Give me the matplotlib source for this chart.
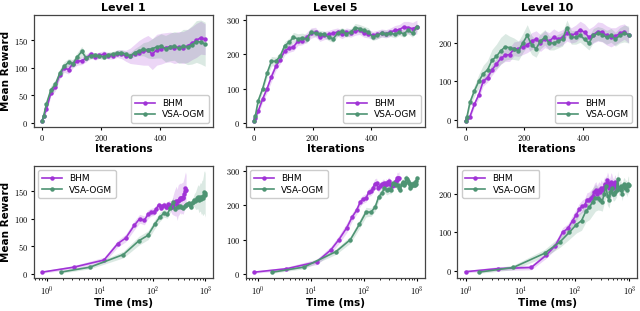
import numpy as np
import matplotlib
matplotlib.use("Agg")
import matplotlib.pyplot as plt
from matplotlib.ticker import FuncFormatter, MultipleLocator, LogLocator

plt.rcParams['mathtext.fontset'] = 'cm'
plt.rcParams['font.family'] = ['DejaVu Sans']

levels = ["Level 1", "Level 5", "Level 10"]
series_names = ["BHM", "VSA-OGM"]
colors = {"BHM": "#a033d6", "VSA-OGM": "#4e9473"}

iterations = [0, 5, 15, 30, 45, 60, 75, 90, 105, 120, 135, 150, 165, 180, 195, 210,
              225, 240, 255, 270, 285, 300, 315, 330, 345, 360, 375, 390, 405, 420,
              435, 450, 465, 480, 495, 510, 525, 540, 555]

# ---------- Level 1 ----------
l1_bhm_mean = [3, 12, 25, 55, 65, 88, 100, 97, 108, 112, 113, 118, 125, 120, 123, 125,
               122, 122, 126, 125, 122, 122, 125, 128, 130, 132, 125, 133, 135, 137,
               138, 136, 138, 137, 140, 145, 150, 155, 152]
l1_bhm_std = [2, 3, 5, 6, 7, 8, 8, 8, 8, 7, 7, 7, 6, 6, 6, 6, 6, 6, 7, 8, 10, 14, 18, 22,
              25, 27, 28, 28, 28, 27, 27, 28, 28, 29, 30, 30, 31, 30, 28]
l1_vsa_mean = [3, 12, 35, 60, 70, 90, 103, 110, 108, 120, 130, 118, 122, 123, 122, 120,
               124, 125, 127, 128, 125, 122, 128, 131, 134, 133, 135, 138, 140, 135,
               138, 140, 136, 140, 138, 142, 148, 147, 143]
l1_vsa_std = [2, 3, 6, 8, 8, 8, 8, 7, 7, 8, 9, 6, 6, 5, 5, 5, 5, 5, 5, 5, 5, 6, 7, 9,
              12, 15, 18, 20, 22, 24, 25, 26, 28, 30, 32, 35, 38, 40, 40]
l1_bhm_time = [0.8, 3.2, 12, 22, 31, 45, 57, 70, 82, 94, 106, 118, 130, 142, 154, 165,
               177, 189, 201, 212, 224, 236, 247, 259, 271, 282, 294, 306, 317, 329,
               341, 352, 364, 376, 387, 399, 411, 422, 434]
l1_vsa_time = [1.8, 6.5, 28, 55, 82, 110, 137, 164, 191, 218, 245, 272, 299, 326, 353,
               380, 407, 434, 461, 488, 515, 542, 569, 596, 623, 650, 677, 704, 731,
               758, 785, 812, 839, 866, 893, 920, 947, 974, 1000]

# ---------- Level 5 ----------
l5_bhm_mean = [5, 15, 35, 70, 100, 135, 165, 185, 210, 218, 222, 238, 240, 250, 262, 265,
               250, 255, 258, 262, 265, 258, 265, 262, 268, 270, 262, 260, 255, 258,
               262, 260, 265, 270, 272, 280, 278, 275, 280]
l5_bhm_std = [3, 5, 8, 10, 12, 14, 12, 12, 12, 12, 12, 12, 12, 14, 15, 14, 12, 12, 12, 12,
              12, 12, 12, 12, 12, 12, 12, 12, 12, 12, 12, 12, 12, 14, 15, 16, 18, 18, 20]
l5_vsa_mean = [5, 20, 65, 100, 145, 180, 180, 195, 225, 235, 250, 245, 248, 245, 265, 262,
               260, 258, 250, 245, 262, 268, 260, 265, 278, 275, 270, 265, 250, 255,
               262, 260, 262, 258, 265, 260, 270, 262, 280]
l5_vsa_std = [3, 5, 8, 10, 12, 14, 12, 12, 12, 12, 14, 15, 14, 12, 10, 10, 10, 10, 10, 10,
              10, 10, 10, 10, 12, 12, 12, 12, 10, 10, 10, 10, 10, 10, 10, 10, 10, 12, 12]
l5_bhm_time = [0.85, 3.5, 13, 24, 34, 48, 60, 73, 86, 98, 111, 124, 136, 149, 161, 174,
               186, 199, 211, 224, 236, 249, 261, 274, 286, 299, 311, 324, 336, 349,
               361, 374, 386, 399, 411, 424, 436, 449, 461]
l5_vsa_time = [1.9, 7.5, 30, 56, 83, 110, 137, 164, 191, 218, 245, 272, 299, 326, 353,
               380, 407, 434, 461, 488, 515, 542, 569, 596, 623, 650, 677, 704, 731,
               758, 785, 812, 839, 866, 893, 920, 947, 974, 1000]

# ---------- Level 10 ----------
l10_bhm_mean = [-3, 5, 8, 40, 65, 100, 110, 130, 145, 160, 168, 170, 185, 185, 190, 195,
                205, 210, 200, 210, 205, 215, 210, 215, 225, 220, 225, 235, 228, 215,
                222, 230, 228, 220, 215, 218, 225, 230, 220]
l10_bhm_std = [3, 5, 6, 8, 10, 12, 12, 14, 15, 15, 16, 18, 18, 20, 20, 20, 22, 22, 22, 22,
               22, 22, 20, 20, 20, 20, 22, 22, 22, 22, 22, 25, 25, 25, 25, 22, 22, 20, 20]
l10_vsa_mean = [-4, 8, 45, 75, 100, 120, 130, 155, 165, 180, 190, 188, 185, 180, 200, 220,
                195, 185, 205, 215, 200, 200, 205, 210, 240, 215, 215, 220, 210, 200,
                220, 225, 222, 215, 220, 210, 220, 225, 222]
l10_vsa_std = [3, 6, 10, 14, 18, 22, 25, 28, 32, 35, 35, 30, 28, 25, 25, 28, 25, 22, 20, 20,
               18, 18, 18, 18, 20, 18, 18, 18, 18, 18, 18, 18, 18, 18, 18, 18, 20, 22, 22]
l10_bhm_time = [1.0, 3.9, 16, 30, 44, 60, 75, 91, 106, 121, 137, 152, 167, 183, 198, 213,
                229, 244, 259, 275, 290, 305, 321, 336, 351, 367, 382, 397, 413, 428,
                443, 459, 474, 489, 505, 520, 535, 551, 566]
l10_vsa_time = [1.8, 7.5, 28, 54, 80, 107, 133, 160, 186, 213, 239, 266, 292, 319, 345,
                372, 398, 425, 451, 478, 504, 531, 557, 584, 610, 637, 663, 690, 716,
                743, 769, 796, 822, 849, 875, 902, 928, 955, 970]

data = [
    {"BHM": (l1_bhm_mean, l1_bhm_std, l1_bhm_time), "VSA-OGM": (l1_vsa_mean, l1_vsa_std, l1_vsa_time)},
    {"BHM": (l5_bhm_mean, l5_bhm_std, l5_bhm_time), "VSA-OGM": (l5_vsa_mean, l5_vsa_std, l5_vsa_time)},
    {"BHM": (l10_bhm_mean, l10_bhm_std, l10_bhm_time), "VSA-OGM": (l10_vsa_mean, l10_vsa_std, l10_vsa_time)},
]
ytick_step = [50, 100, 100]

fig, axes = plt.subplots(2, 3, figsize=(6.4, 3.11), dpi=100)
fig.subplots_adjust(left=0.053, right=0.995, top=0.952, bottom=0.105, wspace=0.18, hspace=0.34)

lin_fmt = FuncFormatter(lambda v, p: f'${int(round(v))}$')
log_fmt = FuncFormatter(lambda v, p: f'$10^{{{int(round(np.log10(v)))}}}$' if v > 0 else '')

for j in range(3):
    for row in range(2):
        ax = axes[row, j]
        for name in series_names:
            m, s, t = data[j][name]
            m = np.array(m, float)
            s = np.array(s, float)
            x = np.array(iterations if row == 0 else t, float)
            c = colors[name]
            ax.fill_between(x, m - s, m + s, color=c, alpha=0.2, linewidth=0)
            ax.plot(x, m, color=c, marker='o', markersize=2.2, linewidth=1.2, label=name)
        if row == 1:
            ax.set_xscale('log')
            ax.xaxis.set_major_locator(LogLocator(base=10, numticks=10))
            ax.xaxis.set_major_formatter(log_fmt)
            ax.set_xlabel("Time (ms)", fontsize=7.5, fontweight='bold', labelpad=0.5)
            ax.legend(loc='upper left', fontsize=6.5, handlelength=2.2, borderpad=0.4,
                      labelspacing=0.3, framealpha=1)
        else:
            ax.xaxis.set_major_locator(MultipleLocator(200))
            ax.xaxis.set_major_formatter(lin_fmt)
            ax.set_xlabel("Iterations", fontsize=7.5, fontweight='bold', labelpad=0.5)
            ax.set_title(levels[j], fontsize=8, fontweight='bold', pad=3)
            ax.legend(loc='lower right', fontsize=6.5, handlelength=2.2, borderpad=0.4,
                      labelspacing=0.3, framealpha=1)
        ax.yaxis.set_major_locator(MultipleLocator(ytick_step[j]))
        ax.yaxis.set_major_formatter(lin_fmt)
        ax.tick_params(labelsize=6, length=2.5, pad=1.5)
        ax.tick_params(which='minor', length=1.5)
        for sp in ax.spines.values():
            sp.set_color('#444444')
            sp.set_linewidth(0.9)
        if j == 0:
            ax.set_ylabel("Mean Reward", fontsize=7.5, fontweight='bold', labelpad=2)

fig.savefig("out.png", dpi=100)
